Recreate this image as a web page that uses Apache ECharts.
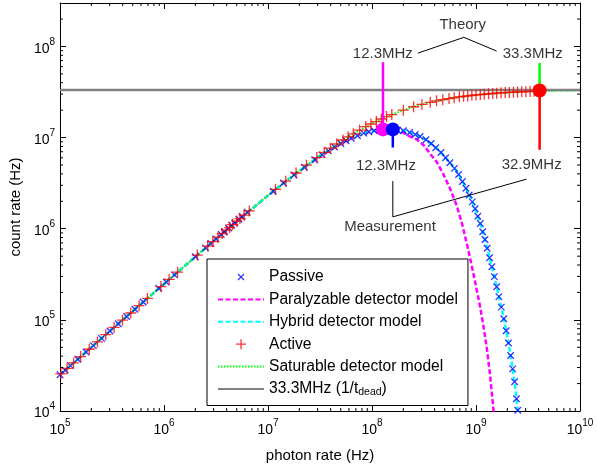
<!DOCTYPE html>
<html>
<head>
<meta charset="utf-8">
<script src="https://cdn.jsdelivr.net/npm/echarts@6/dist/echarts.min.js"></script>
<style>
  html, body { margin: 0; padding: 0; background: #fff; }
  #chart { width: 597px; height: 468px; }
</style>
</head>
<body>
<div id="chart"></div>
<script>
// ---- measured count rates (Hz) vs. photon rate (Hz) ----
const passiveX = [1.00e5,1.12e5,1.26e5,1.48e5,1.78e5,2.09e5,2.51e5,3.02e5,3.63e5,4.37e5,5.25e5,6.31e5,8.91e5,1.05e6,1.26e6,2.00e6,2.51e6,2.82e6,3.16e6,3.55e6,3.80e6,4.17e6,4.47e6,4.79e6,5.25e6,5.62e6,6.31e6,1.12e7,1.41e7,1.78e7,2.24e7,2.82e7,3.31e7,3.80e7,4.37e7,5.01e7,5.62e7,6.31e7,7.24e7,8.32e7,9.33e7,1.05e8,1.18e8,1.32e8,1.50e8,1.75e8,2.0e8,2.3e8,2.6e8,2.9e8,3.3e8,3.7e8,4.1e8,4.6e8,5.1e8,5.6e8,6.2e8,6.8e8,7.4e8,8.0e8,8.6e8,9.2e8,9.8e8,1.04e9,1.10e9,1.16e9,1.22e9,1.28e9,1.35e9,1.42e9,1.50e9,1.58e9,1.66e9,1.75e9,1.85e9,1.95e9,2.05e9,2.15e9,2.25e9,2.35e9,2.45e9,2.52e9];
const passiveY = [2.50e4,2.80e4,3.15e4,3.70e4,4.44e4,5.22e4,6.27e4,7.54e4,9.06e4,1.09e5,1.31e5,1.57e5,2.22e5,2.60e5,3.12e5,4.92e5,6.17e5,6.91e5,7.74e5,8.67e5,9.28e5,1.02e6,1.09e6,1.16e6,1.27e6,1.36e6,1.52e6,2.58e6,3.17e6,3.89e6,4.73e6,5.71e6,6.46e6,7.15e6,7.87e6,8.60e6,9.22e6,9.83e6,1.05e7,1.12e7,1.16e7,1.19e7,1.22e7,1.23e7,1.23e7,1.21e7,1.19e7,1.14e7,1.08e7,1.03e7,9.47e6,8.6e6,7.74e6,6.85e6,6.0e6,5.3e6,4.6e6,3.94e6,3.3e6,2.78e6,2.35e6,1.97e6,1.66e6,1.37e6,1.14e6,9.27e5,7.61e5,6.12e5,4.8e5,3.82e5,2.98e5,2.31e5,1.80e5,1.38e5,1.03e5,7.6e4,5.58e4,4.07e4,2.9e4,2.09e4,1.36e4,1.02e4];

const activeX = [1.02e5,1.17e5,1.35e5,1.58e5,1.91e5,2.29e5,2.75e5,3.31e5,3.98e5,4.79e5,5.75e5,6.92e5,9.33e5,1.12e6,1.35e6,2.09e6,2.63e6,2.95e6,3.31e6,3.63e6,3.98e6,4.27e6,4.57e6,5.01e6,5.37e6,5.89e6,6.61e6,1.18e7,1.48e7,1.86e7,2.34e7,2.95e7,3.47e7,3.98e7,4.57e7,5.25e7,5.89e7,6.61e7,7.59e7,8.71e7,9.77e7,1.10e8,1.23e8,1.38e8,1.55e8,2.00e8,2.51e8,3.02e8,3.63e8,4.17e8,4.79e8,5.50e8,6.17e8,6.92e8,7.59e8,8.32e8,9.12e8,1.00e9,1.10e9,1.20e9,1.32e9,1.45e9,1.58e9,1.74e9,1.91e9,2.09e9,2.29e9,2.51e9,2.75e9,3.02e9,3.31e9,3.63e9,3.98e9];
const activeY = [2.56e4,2.94e4,3.37e4,3.96e4,4.76e4,5.73e4,6.88e4,8.27e4,9.92e4,1.19e5,1.43e5,1.72e5,2.32e5,2.78e5,3.34e5,5.14e5,6.45e5,7.22e5,8.08e5,8.84e5,9.66e5,1.03e6,1.11e6,1.21e6,1.29e6,1.41e6,1.57e6,2.70e6,3.33e6,4.09e6,4.98e6,6.04e6,6.88e6,7.66e6,8.51e6,9.41e6,1.02e7,1.10e7,1.21e7,1.32e7,1.41e7,1.50e7,1.60e7,1.70e7,1.79e7,2.00e7,2.18e7,2.31e7,2.44e7,2.53e7,2.61e7,2.68e7,2.74e7,2.80e7,2.84e7,2.87e7,2.91e7,2.94e7,2.97e7,3.00e7,3.03e7,3.05e7,3.07e7,3.10e7,3.12e7,3.13e7,3.15e7,3.17e7,3.18e7,3.19e7,3.21e7,3.22e7,3.23e7];

// ---- detector model curves ----
const paraX = [1e5,3.16e5,1e6,3.16e6,1e7,1.78e7,3.16e7,5.62e7,7.5e7,1e8,1.155e8,1.275e8,1.488e8,1.738e8,1.984e8,2.316e8,2.704e8,3.155e8,3.603e8,4.206e8,4.80e8,5.607e8,6.54e8,7.306e8,8.16e8,8.92e8,9.74e8,1.088e9,1.188e9,1.269e9,1.357e9,1.45e9,1.51e9];
const paraY = [2.5e4,7.9e4,2.48e5,7.72e5,2.319e6,3.89e6,6.24e6,9.22e6,1.068e7,1.181e7,1.214e7,1.23e7,1.22e7,1.18e7,1.137e7,1.028e7,9.54e6,8.20e6,6.71e6,5.36e6,4.06e6,2.79e6,1.78e6,1.16e6,6.85e5,4.36e5,2.71e5,1.45e5,8.12e4,4.92e4,2.63e4,1.24e4,7.4e3];

const hybridX = [1e5,3.16e5,1e6,3.16e6,1e7,1.78e7,3.16e7,5.62e7,7.5e7,1e8,1.3e8,1.59e8,1.856e8,2.167e8,2.586e8,3.086e8,3.683e8,4.494e8,5.363e8,6.54e8,7.637e8,8.72e8,9.74e8,1.088e9,1.215e9,1.357e9,1.515e9,1.692e9,1.89e9,2.11e9,2.357e9,2.52e9,2.6e9];
const hybridY = [2.5e4,7.9e4,2.48e5,7.72e5,2.32e6,3.9e6,6.3e6,9.3e6,1.08e7,1.19e7,1.22e7,1.225e7,1.21e7,1.165e7,1.081e7,1.003e7,8.63e6,7.06e6,5.63e6,4.27e6,3.08e6,2.28e6,1.69e6,1.19e6,7.76e5,4.70e5,2.85e5,1.64e5,9.21e4,4.68e4,2.04e4,1.01e4,7.0e3];

const satX = [1e5,3.16e5,1e6,3.16e6,1e7,1.78e7,3.16e7,5.62e7,7.5e7,1e8,1.33e8,1.78e8,2.37e8,3.16e8,4.22e8,5.62e8,1e9,1.78e9,3.16e9,5.62e9,1e10];
const satY = [2.5e4,7.9e4,2.48e5,7.72e5,2.326e6,3.923e6,6.39e6,9.89e6,1.2e7,1.429e7,1.667e7,1.905e7,2.134e7,2.345e7,2.532e7,2.695e7,2.941e7,3.1e7,3.198e7,3.257e7,3.289e7];

const deadTimeRate = 3.33e7;           // 1 / t_dead
const xRange = [1e5, 1e10];
const yRange = [1e4, 3e8];

// ---- highlighted maxima ----
const theoryPeak = [1.275e8, 1.23e7];   // paralyzable maximum, 12.3 MHz
const passivePeak = [1.585e8, 1.23e7];  // measured passive maximum, 12.3 MHz
const activePeak = [4.09e9, 3.29e7];    // measured active maximum, 32.9 MHz

// ---- tick values ----
const xMinorTicks = [];
for (let d = 5; d < 10; d++) for (let m = 2; m <= 9; m++) xMinorTicks.push(m * Math.pow(10, d));
const yMinorTicks = [];
for (let d = 4; d <= 8; d++) for (let m = 2; m <= 9; m++) { const v = m * Math.pow(10, d); if (v < yRange[1]) yMinorTicks.push(v); }

const FONT = 'Liberation Sans, Arial, Helvetica, sans-serif';
const CLEAR = 'rgba(0,0,0,0)';
const zip = (xs, ys) => xs.map((x, i) => [x, ys[i]]);
const DEAD_NAME = '33.3MHz (1/tdead)';

function powLabel(v) {
  const e = Math.log10(v), r = Math.round(e);
  if (Math.abs(e - r) > 1e-6) return '';
  return '{b|10}{s|' + r + '}';
}
const tickRich = {
  b: { fontSize: 14, fontFamily: FONT, color: '#000', verticalAlign: 'bottom' },
  s: { fontSize: 10, fontFamily: FONT, color: '#000', verticalAlign: 'top', padding: [0, 0, 9, 0] }
};

function baseAxis(pos, range, showLabel) {
  return {
    type: 'log', logBase: 10, position: pos, min: range[0], max: range[1],
    axisLine: { show: true, onZero: false, lineStyle: { color: '#000', width: 1 } },
    axisTick: { show: true, inside: true, length: 6, lineStyle: { color: '#000', width: 1 } },
    splitLine: { show: false }, minorTick: { show: false },
    axisLabel: showLabel ? { show: true, formatter: powLabel, rich: tickRich } : { show: false }
  };
}

const xAxisMain = Object.assign(baseAxis('bottom', xRange, true), {
  name: 'photon rate (Hz)', nameLocation: 'middle', nameGap: 37,
  nameTextStyle: { fontSize: 15, fontFamily: FONT, color: '#000' }
});
xAxisMain.axisLabel.margin = 7;
const yAxisMain = Object.assign(baseAxis('left', yRange, true), {
  name: 'count rate (Hz)', nameLocation: 'middle', nameGap: 35,
  nameTextStyle: { fontSize: 15, fontFamily: FONT, color: '#000' }
});
yAxisMain.axisLabel.margin = 5;

// minor ticks drawn through the axis scales on all four sides
function minorTickSeries(values, isX) {
  return {
    type: 'custom', silent: true, z: 5, clip: false,
    data: values.map(v => isX ? [v, 1e5] : [1e5, v]),
    renderItem: function (params, api) {
      const cs = params.coordSys;
      const L = 3;
      if (isX) {
        const px = api.coord([api.value(0), 1e5])[0];
        const yb = cs.y + cs.height, yt = cs.y;
        return { type: 'group', children: [
          { type: 'line', shape: { x1: px, y1: yb, x2: px, y2: yb - L }, style: { stroke: '#000', lineWidth: 1 } },
          { type: 'line', shape: { x1: px, y1: yt, x2: px, y2: yt + L }, style: { stroke: '#000', lineWidth: 1 } }
        ]};
      } else {
        const py = api.coord([1e5, api.value(1)])[1];
        const xl = cs.x, xr = cs.x + cs.width;
        return { type: 'group', children: [
          { type: 'line', shape: { x1: xl, y1: py, x2: xl + L, y2: py }, style: { stroke: '#000', lineWidth: 1 } },
          { type: 'line', shape: { x1: xr, y1: py, x2: xr - L, y2: py }, style: { stroke: '#000', lineWidth: 1 } }
        ]};
      }
    }
  };
}

function segment(points, color, width) {
  return { type: 'line', data: points, symbol: 'none', silent: true, z: 6,
           itemStyle: { color: color }, lineStyle: { color: color, width: width, type: 'solid' } };
}
function dot(p, color) {
  return { type: 'scatter', data: [p], symbol: 'circle', symbolSize: 14, silent: true, z: 7,
           itemStyle: { color: color, opacity: 1 } };
}
function modelLine(name, xs, ys, color, width, dash) {
  return { name: name, type: 'line', data: zip(xs, ys), symbol: 'none', z: 2,
           itemStyle: { color: CLEAR, borderWidth: 0 },
           lineStyle: { color: color, width: width, type: dash } };
}

const noteLabels = [
  { at: [7.46e8, 1.71e8], text: 'Theory' },
  { at: [1.27e8, 8.24e7], text: '12.3MHz' },
  { at: [3.51e9, 8.24e7], text: '33.3MHz' },
  { at: [1.36e8, 4.84e6], text: '12.3MHz' },
  { at: [1.49e8, 1.05e6], text: 'Measurement' },
  { at: [3.43e9, 4.97e6], text: '32.9MHz' }
];

const crossPath = 'path://M0,0L6,6M6,0L0,6';
const plusPath = 'path://M5,0L5,10M0,5L10,5';
const hiddenMark = { color: CLEAR, borderColor: CLEAR, borderWidth: 0, opacity: 0 };

const option = {
  animation: false,
  backgroundColor: '#fff',
  grid: { left: 59, right: 17, top: 3, bottom: 54, containLabel: false },
  xAxis: [xAxisMain, baseAxis('top', xRange, false)],
  yAxis: [yAxisMain, baseAxis('right', yRange, false)],
  legend: {
    orient: 'vertical', left: 207, top: 259,
    padding: [10, 10, 8, 10], itemGap: 6.4, itemWidth: 46, itemHeight: 10,
    backgroundColor: '#fff', borderColor: '#000', borderWidth: 1, borderRadius: 0,
    selectedMode: false,
    textStyle: { fontSize: 15.6, fontFamily: FONT, color: '#000',
      rich: { sub: { fontSize: 10.5, fontFamily: FONT, color: '#000', verticalAlign: 'bottom', padding: [6, 0, 0, 0] } } },
    formatter: function (name) { return name === DEAD_NAME ? '33.3MHz (1/t{sub|dead})' : name; },
    data: [
      { name: 'Passive', icon: 'path://M-2,-2L-2,-2M8,8L8,8M0,0L6,6M6,0L0,6', itemStyle: { color: '#0000ff', borderColor: '#0000ff', borderWidth: 1.3 } },
      { name: 'Paralyzable detector model', itemStyle: hiddenMark },
      { name: 'Hybrid detector model', itemStyle: hiddenMark },
      { name: 'Active', icon: plusPath, itemStyle: { color: '#ff0000', borderColor: '#ff0000', borderWidth: 1.3 } },
      { name: 'Saturable detector model', itemStyle: hiddenMark },
      { name: DEAD_NAME, itemStyle: hiddenMark }
    ]
  },
  series: [
    { name: 'Passive', type: 'scatter', data: zip(passiveX, passiveY), symbol: crossPath, symbolSize: 6.5, z: 2,
      itemStyle: { color: '#0000ff', borderColor: '#0000ff', borderWidth: 1.3 } },
    modelLine('Paralyzable detector model', paraX, paraY, '#ff00ff', 2.5, [5, 2.5]),
    modelLine('Hybrid detector model', hybridX, hybridY, '#00ffff', 2.5, [5, 2.5]),
    { name: 'Active', type: 'scatter', data: zip(activeX, activeY), symbol: plusPath, symbolSize: 11, z: 2,
      itemStyle: { color: '#ff0000', borderColor: '#ff0000', borderWidth: 1.3 } },
    modelLine('Saturable detector model', satX, satY, '#00ff00', 2, [1.5, 1.5]),
    modelLine(DEAD_NAME, xRange, [deadTimeRate, deadTimeRate], '#808080', 2.5, 'solid'),

    // annotation leaders
    segment([[2.76e8, 8.45e7], [7.64e8, 1.26e8], [1.58e9, 8.9e7]], '#000', 1),
    segment([[passivePeak[0], 3.33e6], [passivePeak[0], 1.35e6], [3.06e9, 3.5e6]], '#000', 1),
    segment([theoryPeak, [theoryPeak[0], 6.73e7]], '#ff00ff', 2.5),
    segment([passivePeak, [passivePeak[0], 7.8e6]], '#0000ff', 2.5),
    segment([activePeak, [activePeak[0], 7.37e6]], '#ff0000', 2.5),
    segment([activePeak, [activePeak[0], 6.58e7]], '#00ff00', 2.5),
    dot(theoryPeak, '#ff00ff'),
    dot(passivePeak, '#0000ff'),
    dot(activePeak, '#ff0000'),
    { type: 'scatter', silent: true, z: 8, symbolSize: 1, itemStyle: { color: CLEAR },
      data: noteLabels.map(n => ({ value: n.at, label: { formatter: n.text } })),
      label: { show: true, position: 'inside', fontSize: 15, fontFamily: FONT, color: '#000' } },

    minorTickSeries(xMinorTicks, true),
    minorTickSeries(yMinorTicks, false)
  ]
};

const chart = echarts.init(document.getElementById('chart'), null, { renderer: 'canvas' });
chart.setOption(option);
</script>
</body>
</html>
